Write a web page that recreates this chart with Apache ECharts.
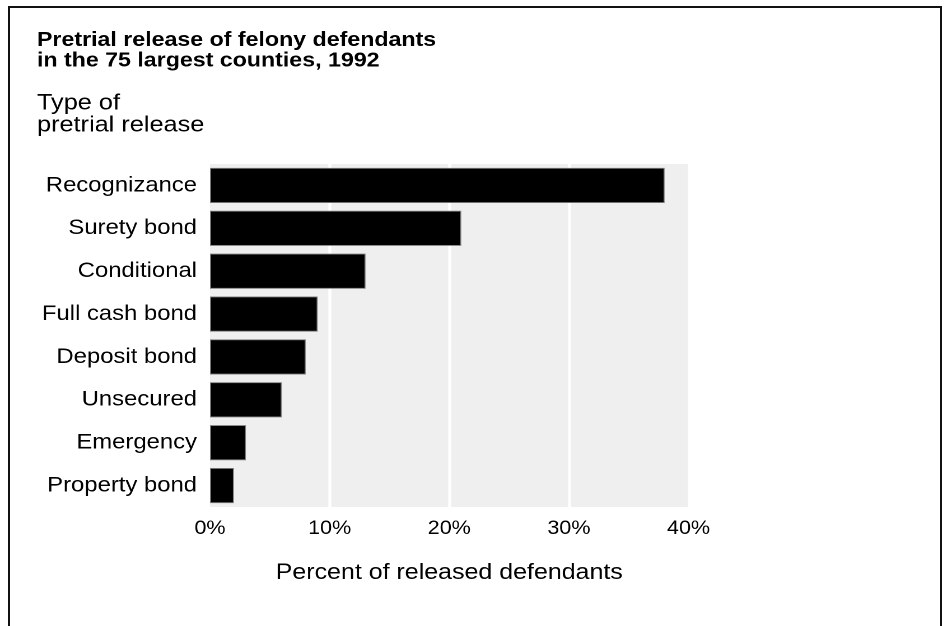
<!DOCTYPE html>
<html>
<head>
<meta charset="utf-8">
<script src="https://cdn.jsdelivr.net/npm/echarts@6/dist/echarts.min.js"></script>
<style>
html,body{margin:0;padding:0;background:#fff;overflow:hidden;}
#frame{position:absolute;left:8px;top:6px;width:934px;height:640px;border:2px solid #111;border-bottom:none;box-sizing:border-box;}
#chart{position:absolute;left:0;top:0;width:846.43px;height:626px;transform:scaleX(1.12);transform-origin:0 0;}
</style>
</head>
<body>
<div id="frame"></div>
<div id="chart"></div>
<script>
const categories = ["Recognizance","Surety bond","Conditional","Full cash bond","Deposit bond","Unsecured","Emergency","Property bond"];
const values = [38, 21, 13, 9, 8, 6, 3, 2];
const tickLabels = ["0%","10%","20%","30%","40%"];
const titleLines = ["Pretrial release of felony defendants","in the 75 largest counties, 1992"];
const yTitle = ["Type of","pretrial release"];
const xTitle = "Percent of released defendants";

const chart = echarts.init(document.getElementById('chart'), null, {renderer:'canvas', devicePixelRatio:2});
const font = "'Liberation Sans', Arial, Helvetica, sans-serif";
chart.setOption({
  animation:false,
  backgroundColor:'transparent',
  title:{
    text: titleLines.join('\n'),
    left:33, top:30, padding:0,
    textStyle:{fontFamily:font, fontWeight:'bold', fontSize:20.7, lineHeight:20.5, color:'#000'}
  },
  graphic:[{
    type:'text', left:33, top:92,
    style:{text:yTitle.join('\n'), font:"22.6px "+font, lineHeight:22, fill:'#000'}
  }],
  grid:{left:187.5, right:231.25, top:164, bottom:119, show:true, backgroundColor:'#efefef', borderWidth:0},
  xAxis:{
    type:'value', min:0, max:40, interval:10,
    name:xTitle, nameLocation:'middle', nameGap:55,
    nameTextStyle:{fontFamily:font, fontSize:22.3, color:'#000'},
    axisLine:{show:false}, axisTick:{show:false},
    axisLabel:{margin:12, fontFamily:font, fontSize:19.2, color:'#000',
      formatter:function(v){return tickLabels[Math.round(v/10)];}},
    splitLine:{show:true, showMinLine:false, lineStyle:{color:'#ffffff', width:2.7}}
  },
  yAxis:{
    type:'category', data:categories, inverse:true,
    axisLine:{show:false}, axisTick:{show:false},
    axisLabel:{margin:11.6, fontFamily:font, fontSize:21.3, color:'#000'},
    splitLine:{show:false}
  },
  series:[{
    type:'bar', data:values, barCategoryGap:'18%',
    itemStyle:{color:'#000', borderColor:'#808080', borderWidth:0.9},
    silent:true
  }]
});
</script>
</body>
</html>
